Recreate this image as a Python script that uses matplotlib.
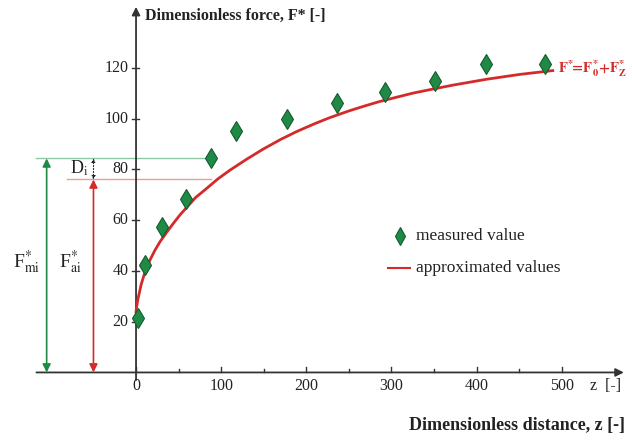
import numpy as np
import matplotlib
matplotlib.use("Agg")
import matplotlib.pyplot as plt

plt.rcParams['font.family'] = ['Liberation Serif', 'DejaVu Serif']
plt.rcParams['mathtext.fontset'] = 'stix'

z_meas = [2, 11, 31, 59, 88, 117, 177, 236, 293, 351, 411, 480]
F_meas = [21.6, 42.3, 57.4, 68.3, 84.3, 95.2, 99.9, 106.0, 110.6, 114.8, 121.3, 121.3]

# approximated curve F* = F0* + Fz*
z_fit = [0, 0.7, 1.5, 2.6, 3.9, 6.0, 8.6, 12.0, 16.4, 22.0, 28.2, 36.0, 43.8,
         51.5, 59.5, 70.0, 83, 96.0, 110.4, 130, 149.5, 170, 188.8, 210, 227.9,
         250, 267, 286, 306, 325, 345.4, 372.7, 412, 451, 489.5]
F_fit = [24.0, 25.8, 27.5, 29.5, 31.4, 34.6, 37.5, 41.0, 44.3, 48.0, 51.5, 55.2, 58.7,
         62.0, 65.0, 68.9, 72.5, 76.2, 79.7, 84.0, 88.0, 91.8, 94.9, 98.0, 100.4,
         103.0, 104.8, 106.7, 108.4, 110.0, 111.4, 113.2, 115.5, 117.4, 118.9]

x_ticks = [0, 100, 200, 300, 400, 500]
y_ticks = [20, 40, 60, 80, 100, 120]

F_mi = 84.3
F_ai = 76.0

green = '#1e8a45'
green_light = '#8ccaa5'
red = '#d42a2a'
red_light = '#ee9a9a'

fig = plt.figure(figsize=(6.32, 4.41), dpi=100)
ax = fig.add_axes([0, 0, 1, 1])
ax.set_xlim(-159.8, 582.6)
ax.set_ylim(-27.0, 146.7)
ax.axis('off')

# axes lines with arrows
ax.annotate('', xy=(573, 0), xytext=(-117, 0),
            arrowprops=dict(arrowstyle='-|>', color='#333333', lw=1.3,
                            mutation_scale=12, shrinkA=0, shrinkB=0))
ax.annotate('', xy=(0, 144), xytext=(0, -3),
            arrowprops=dict(arrowstyle='-|>', color='#333333', lw=1.3,
                            mutation_scale=12, shrinkA=0, shrinkB=0))

# ticks
for xt in x_ticks:
    ax.plot([xt, xt], [0, 2.2], color='#333333', lw=1)
    ax.text(xt, -5.5, str(xt), ha='center', va='center', fontsize=11.5, color='#222222')
for xt in [50, 150, 250, 350, 450]:
    ax.plot([xt, xt], [0, 1.3], color='#333333', lw=1)
for yt in y_ticks:
    ax.plot([-5, 3], [yt, yt], color='#333333', lw=1)
    ax.text(-9, yt, str(yt), ha='right', va='center', fontsize=11.5, color='#222222')

# reference lines and arrows on the left
ax.plot([-118, 88], [F_mi, F_mi], color=green_light, lw=1, zorder=1)
ax.plot([-81, 88], [F_ai, F_ai], color=red_light, lw=1, zorder=1)
ax.annotate('', xy=(-105, 0), xytext=(-105, F_mi),
            arrowprops=dict(arrowstyle='<|-|>', color=green, lw=1.2,
                            mutation_scale=12, shrinkA=0, shrinkB=0))
ax.annotate('', xy=(-50, 0), xytext=(-50, F_ai),
            arrowprops=dict(arrowstyle='<|-|>', color=red, lw=1.2,
                            mutation_scale=12, shrinkA=0, shrinkB=0))
ax.annotate('', xy=(-50, F_ai), xytext=(-50, F_mi),
            arrowprops=dict(arrowstyle='<|-|>', color='#222222', lw=0.8, ls=':',
                            mutation_scale=5, shrinkA=0, shrinkB=0))

ax.text(-128, 43.6, r'F$^{*}_{\rm mi}$', ha='center', va='center', fontsize=14, color='#222222')
ax.text(-77, 43.6, r'F$^{*}_{\rm ai}$', ha='center', va='center', fontsize=14, color='#222222')
ax.text(-56, 80.3, r'D$_{\rm i}$', ha='right', va='center', fontsize=13, color='#222222')

# data
ax.plot(z_fit, F_fit, color=red, lw=2, zorder=3, solid_joinstyle='round')
ax.plot(z_meas, F_meas, ls='none', marker='d', markersize=10,
        markerfacecolor=green, markeredgecolor='#145c2e', markeredgewidth=0.8, zorder=4)

# legend drawn by hand
ax.plot([310], [53.7], ls='none', marker='d', markersize=9,
        markerfacecolor=green, markeredgecolor='#145c2e', markeredgewidth=0.8)
ax.text(329, 53.7, 'measured value', ha='left', va='center', fontsize=12.5, color='#222222')
ax.plot([296, 322], [41.1, 41.1], color=red, lw=1.5)
ax.text(329, 41.1, 'approximated values', ha='left', va='center', fontsize=12.5, color='#222222')

# labels
ax.text(496, 119.8, r'$\mathbf{F^{*}\!\!=\!F^{*}_{0}\!+\!F^{*}_{Z}}$', ha='left', va='center',
        fontsize=10.5, color=red)
ax.text(11, 140.4, 'Dimensionless force, F* [-]', ha='left', va='center',
        fontsize=11.5, fontweight='bold', color='#222222')
ax.text(533, -5.5, 'z  [-]', ha='left', va='center', fontsize=11.5, color='#222222')
ax.text(574, -20.7, 'Dimensionless distance, z [-]', ha='right', va='center',
        fontsize=13, fontweight='bold', color='#222222')

fig.savefig('out.png', dpi=100)
